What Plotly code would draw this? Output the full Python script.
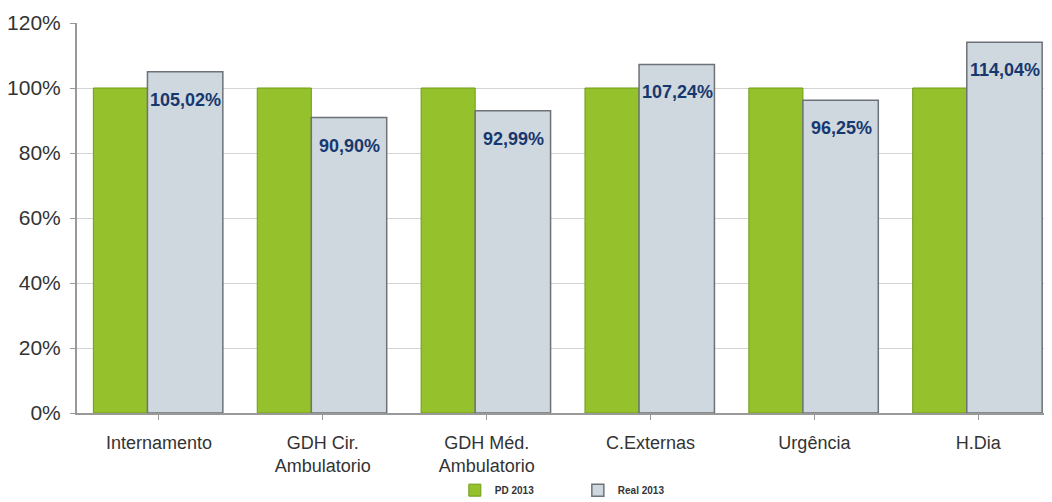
import plotly.graph_objects as go

categories = ["Internamento", "GDH Cir.<br>Ambulatorio", "GDH Méd.<br>Ambulatorio",
              "C.Externas", "Urgência", "H.Dia"]
pd_2013 = [100, 100, 100, 100, 100, 100]
real_2013 = [105.02, 90.90, 92.99, 107.24, 96.25, 114.04]
real_labels = ["105,02%", "90,90%", "92,99%", "107,24%", "96,25%", "114,04%"]
y_ticks = [0, 20, 40, 60, 80, 100, 120]
y_tick_labels = ["0%", "20%", "40%", "60%", "80%", "100%", "120%"]

x_idx = list(range(len(categories)))

fig = go.Figure()
fig.add_trace(go.Bar(
    x=x_idx, y=pd_2013, name="<b>PD 2013</b>",
    offset=-0.40, width=0.33,
    marker=dict(color="#95c22c", line=dict(color="#6f9a14", width=1)),
))
fig.add_trace(go.Bar(
    x=x_idx, y=real_2013, name="<b>Real 2013</b>",
    offset=-0.07, width=0.46,
    marker=dict(color="#cfd8de", line=dict(color="#6d7278", width=1.5)),
))

for i, (v, t) in enumerate(zip(real_2013, real_labels)):
    fig.add_annotation(x=i + 0.165, y=v, text="<b>" + t + "</b>", showarrow=False, yshift=-28,
                       font=dict(family="Liberation Sans, Arial", size=18, color="#17376f"),
                       xanchor="center", yanchor="middle")

fig.update_layout(
    width=1044, height=494,
    margin=dict(l=69, r=0, t=15, b=89, autoexpand=False),
    paper_bgcolor="white", plot_bgcolor="white",
    barmode="overlay",
    font=dict(family="Liberation Sans, Arial", color="#333333"),
    showlegend=True,
    legend=dict(orientation="h", xref="container", x=0.428, xanchor="left",
                yref="container", y=0.024, yanchor="middle",
                font=dict(size=10, color="#333333", family="Liberation Sans, Arial"),
                entrywidth=78, itemwidth=30),
    xaxis=dict(
        tickmode="array", tickvals=x_idx, ticktext=categories,
        range=[-0.5, 5.45], tickson="boundaries", ticks="outside", ticklen=5,
        tickcolor="#999999", showline=True, linecolor="#999999", linewidth=2,
        showgrid=False, zeroline=False, automargin=False, ticklabelstandoff=7,
        tickfont=dict(size=18, color="#333333"),
    ),
    yaxis=dict(
        range=[0, 120], tickmode="array", tickvals=y_ticks, ticktext=y_tick_labels,
        showgrid=True, gridcolor="#d4d4d4", gridwidth=1,
        showline=True, linecolor="#999999", linewidth=2,
        ticks="outside", ticklen=5, tickcolor="#999999", automargin=False,
        ticklabelstandoff=5,
        tickfont=dict(size=21, color="#333333"), zeroline=False,
    ),
)

fig.write_html("out.html")
